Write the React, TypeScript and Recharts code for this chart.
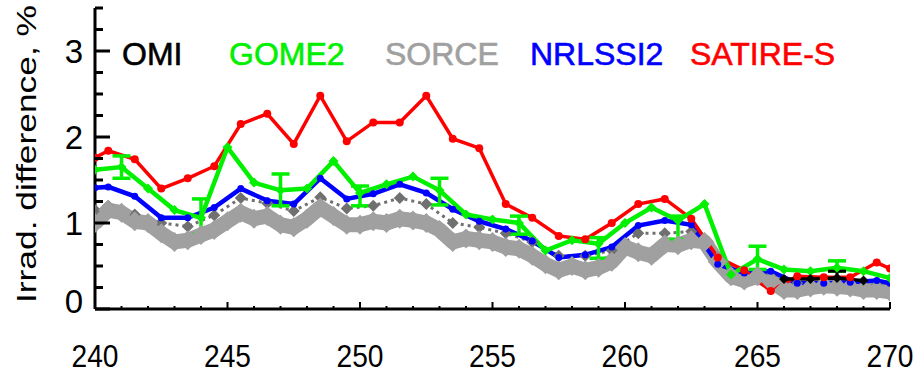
import React from 'react';
import { ComposedChart, Line, XAxis, YAxis, ErrorBar, Customized } from 'recharts';

// ---- Data ----
const X_TICKS = [240,241,242,243,244,245,246,247,248,249,250,251,252,253,254,255,256,257,258,259,260,261,262,263,264,265,266,267,268,269,270];
const Y_TICKS = [0,0.25,0.5,0.75,1,1.25,1.5,1.75,2,2.25,2.5,2.75,3,3.25,3.5];

// SORCE high-resolution band (light gray)
const SORCE_WL = [240,240.5,241,241.5,242,242.5,243,243.5,244,244.5,245,245.5,246,246.5,247,247.5,248,248.5,249,249.5,250,250.5,251,251.5,252,252.5,253,253.5,254,254.5,255,255.5,256,256.5,257,257.5,258,258.5,259,259.5,260,260.5,261,261.5,262,262.5,263,263.5,264,264.5,265,265.5,266,266.5,267,267.5,268,268.5,269,269.5,270];
const SORCE_VAL = [1.00,1.15,1.12,1.02,1.00,0.88,0.78,0.80,0.86,0.92,1.02,1.12,1.05,1.08,0.98,0.95,1.05,1.18,1.08,0.98,0.98,1.02,1.00,1.05,1.03,1.00,0.92,0.78,0.82,0.80,0.78,0.72,0.70,0.62,0.52,0.45,0.50,0.45,0.48,0.55,0.72,0.66,0.62,0.75,0.74,0.80,0.78,0.55,0.38,0.33,0.38,0.32,0.22,0.22,0.25,0.27,0.26,0.25,0.22,0.22,0.20];

// SORCE binned (dark gray, dotted)
const SORCE_B_WL = [240,240.5,241.5,242.5,243.5,244.5,245.5,246.5,247.5,248.5,249.5,250.5,251.5,252.5,253.5,254.5,255.5,256.5,257.5,258.5,259.5,260.5,261.5,262.5,263.5,264.5,265.5,266.5,267.5,268.5,269.5];
const SORCE_B_VAL = [1.15,1.20,1.10,1.00,0.96,1.09,1.29,1.23,1.14,1.30,1.17,1.20,1.29,1.22,1.00,0.95,0.88,0.78,0.62,0.62,0.68,0.88,0.88,0.90,0.60,0.38,0.38,0.30,0.30,0.30,0.28];

// Model grid (SATIRE-S, NRLSSI2)
const MODEL_WL = [240,240.5,241.5,242.5,243.5,244.5,245.5,246.5,247.5,248.5,249.5,250.5,251.5,252.5,253.5,254.5,255.5,256.5,257.5,258.5,259.5,260.5,261.5,262.5,263.5,264.5,265.5,266.5,267.5,268.5,269.5,270];
const SATIRE_VAL = [1.76,1.84,1.74,1.40,1.52,1.66,2.15,2.27,1.92,2.48,1.95,2.17,2.17,2.48,1.98,1.87,1.22,1.06,0.85,0.81,1.00,1.22,1.28,1.05,0.60,0.45,0.21,0.38,0.37,0.37,0.54,0.47];
const NRLSSI2_VAL = [1.41,1.42,1.31,1.06,1.06,1.18,1.40,1.26,1.22,1.52,1.28,1.34,1.45,1.35,1.16,1.02,0.93,0.79,0.60,0.63,0.72,0.97,1.03,0.98,0.52,0.42,0.44,0.30,0.30,0.31,0.33,0.30];

// GOME2
const GOME2_WL = [240,241,242,243,244,245,246,247,248,249,250,251,252,253,254,255,256,257,258,259,260,261,262,263,264,265,266,267,268,269,270];
const GOME2_VAL = [1.62,1.65,1.40,1.15,1.06,1.88,1.47,1.38,1.40,1.72,1.35,1.45,1.54,1.38,1.10,1.04,1.00,0.68,0.80,0.76,1.00,1.18,1.03,1.22,0.40,0.58,0.46,0.44,0.48,0.44,0.36];
const GOME2_ERR_WL = [241,244,247,250,253,256,259,262,265,268];
const GOME2_ERR_LO = [1.52,0.87,1.20,1.20,1.21,0.87,0.59,0.81,0.46,0.44];
const GOME2_ERR_HI = [1.78,1.28,1.57,1.43,1.52,1.08,0.83,1.08,0.73,0.56];

// OMI
const OMI_WL = [266,267,268,269];
const OMI_VAL = [0.35,0.35,0.36,0.33];
const OMI_ERR_WL = [268];
const OMI_ERR_LO = [0.27];
const OMI_ERR_HI = [0.44];

const LEGEND_NAMES = ['OMI', 'GOME2', 'SORCE', 'NRLSSI2', 'SATIRE-S'];
const LEGEND_COLORS = ['#000000', '#00f000', '#a0a0a0', '#0000ff', '#ff0000'];
const LEGEND_X = [122, 229, 385, 530, 690];

const build = (wl: number[], val: number[], errWl?: number[], lo?: number[], hi?: number[]) =>
  wl.map((w, i) => {
    const row: any = { wl: w, v: val[i] };
    if (errWl && lo && hi) {
      const k = errWl.indexOf(w);
      if (k >= 0) row.err = [val[i] - lo[k], hi[k] - val[i]];
    }
    return row;
  });

const sorceData = build(SORCE_WL, SORCE_VAL);
const sorceBData = build(SORCE_B_WL, SORCE_B_VAL);
const satireData = build(MODEL_WL, SATIRE_VAL);
const nrlData = build(MODEL_WL, NRLSSI2_VAL);
const gomeData = build(GOME2_WL, GOME2_VAL, GOME2_ERR_WL, GOME2_ERR_LO, GOME2_ERR_HI);
const omiData = build(OMI_WL, OMI_VAL, OMI_ERR_WL, OMI_ERR_LO, OMI_ERR_HI);

const FONT = '"Liberation Sans", Arial, Helvetica, sans-serif';

const diamond = (h: number, fill: string) => (props: any) => {
  const { cx, cy, index } = props;
  if (cx == null || cy == null) return <g key={index} />;
  return <polygon key={index} points={`${cx},${cy - h} ${cx + h},${cy} ${cx},${cy + h} ${cx - h},${cy}`} fill={fill} />;
};
const circle = (r: number, fill: string) => (props: any) => {
  const { cx, cy, index } = props;
  if (cx == null || cy == null) return <g key={index} />;
  return <circle key={index} cx={cx} cy={cy} r={r} fill={fill} />;
};

const XTickBottom = (props: any) => {
  const { x, y, payload } = props;
  const v = payload.value;
  const major = v % 5 === 0;
  return (
    <g>
      <line x1={x} x2={x} y1={y} y2={y - (major ? 7 : 3)} stroke="#000" strokeWidth={2} />
      {major && (
        <text x={x} y={y + 58} textAnchor="middle" fontSize={31} fontFamily={FONT} fill="#000" textLength={47} lengthAdjust="spacingAndGlyphs">
          {v}
        </text>
      )}
    </g>
  );
};
const XTickTop = (props: any) => {
  const { x, y, payload } = props;
  const major = payload.value % 5 === 0;
  return <line x1={x} x2={x} y1={y} y2={y + (major ? 7 : 3)} stroke="#000" strokeWidth={2} />;
};
const YTickLeft = (props: any) => {
  const { x, y, payload } = props;
  const v = payload.value;
  const major = Number.isInteger(v);
  return (
    <g>
      <line x1={x} x2={x + (major ? 15 : 8)} y1={y} y2={y} stroke="#000" strokeWidth={3} />
      {major && (
        <text x={x - 12} y={y + 12 - (v === 0 ? 8 : 0)} textAnchor="end" fontSize={33} fontFamily={FONT} fill="#000">
          {v}
        </text>
      )}
    </g>
  );
};
const YTickRight = (props: any) => {
  const { x, y } = props;
  return <line x1={x} x2={x - 13} y1={y} y2={y} stroke="#000" strokeWidth={3} />;
};

const Overlay = () => (
  <g fontFamily={FONT}>
    <text transform="translate(36,303) rotate(-90)" fontSize={28} fill="#000" textLength={298} lengthAdjust="spacingAndGlyphs">
      Irrad. difference, %
    </text>
    {LEGEND_NAMES.map((name, i) => (
      <text key={name} x={LEGEND_X[i]} y={65} fontSize={32} fill={LEGEND_COLORS[i]} stroke={LEGEND_COLORS[i]} strokeWidth={0.6}>
        {name}
      </text>
    ))}
  </g>
);

export default function App() {
  return (
    <div style={{ position: 'absolute', left: 0, top: 0, width: 918, height: 374, background: '#fff' }}>
      <ComposedChart width={918} height={374} margin={{ top: 8, right: 28, bottom: 0, left: 0 }}>
        <XAxis xAxisId="b" dataKey="wl" type="number" domain={[240, 270]} ticks={X_TICKS} interval={0}
          allowDataOverflow height={65} tickSize={0} tickMargin={0} tickLine={false}
          axisLine={{ stroke: '#000', strokeWidth: 3 }} tick={<XTickBottom />} />
        <XAxis xAxisId="t" orientation="top" dataKey="wl" type="number" domain={[240, 270]} ticks={X_TICKS} interval={0}
          allowDataOverflow height={0} tickSize={0} tickMargin={0} tickLine={false}
          axisLine={{ stroke: '#000', strokeWidth: 3 }} tick={<XTickTop />} />
        <YAxis yAxisId="l" type="number" domain={[0, 3.5]} ticks={Y_TICKS} interval={0} allowDataOverflow width={95}
          tickSize={0} tickMargin={0} tickLine={false} axisLine={{ stroke: '#000', strokeWidth: 3 }} tick={<YTickLeft />} />
        <YAxis yAxisId="r" orientation="right" type="number" domain={[0, 3.5]} ticks={Y_TICKS} interval={0} allowDataOverflow width={0}
          tickSize={0} tickMargin={0} tickLine={false} axisLine={{ stroke: '#000', strokeWidth: 3 }} tick={<YTickRight />} />

        <Line xAxisId="b" yAxisId="l" data={sorceBData} dataKey="v" stroke="#707070" strokeWidth={3} strokeDasharray="3 4"
          dot={diamond(6, '#707070')} isAnimationActive={false} />
        <Line xAxisId="b" yAxisId="l" data={sorceData} dataKey="v" stroke="#a0a0a0" strokeWidth={15} strokeLinejoin="round"
          dot={diamond(10, '#a0a0a0')} isAnimationActive={false} />
        <Line xAxisId="b" yAxisId="l" data={nrlData} dataKey="v" stroke="#0000ff" strokeWidth={4.5}
          dot={circle(3.5, '#0000ff')} isAnimationActive={false} />
        <Line xAxisId="b" yAxisId="l" data={satireData} dataKey="v" stroke="#ff0000" strokeWidth={3.5}
          dot={circle(4, '#ff0000')} isAnimationActive={false} />
        <Line xAxisId="b" yAxisId="l" data={gomeData} dataKey="v" stroke="#00f000" strokeWidth={4.5}
          dot={diamond(5, '#00f000')} isAnimationActive={false}>
          <ErrorBar dataKey="err" direction="y" width={9} stroke="#00f000" strokeWidth={3.5} isAnimationActive={false} />
        </Line>
        <Line xAxisId="b" yAxisId="l" data={omiData} dataKey="v" stroke="#000000" strokeWidth={3.5}
          dot={diamond(5, '#000000')} isAnimationActive={false}>
          <ErrorBar dataKey="err" direction="y" width={9} stroke="#000000" strokeWidth={3} isAnimationActive={false} />
        </Line>
        <Customized component={Overlay} />
      </ComposedChart>
    </div>
  );
}
